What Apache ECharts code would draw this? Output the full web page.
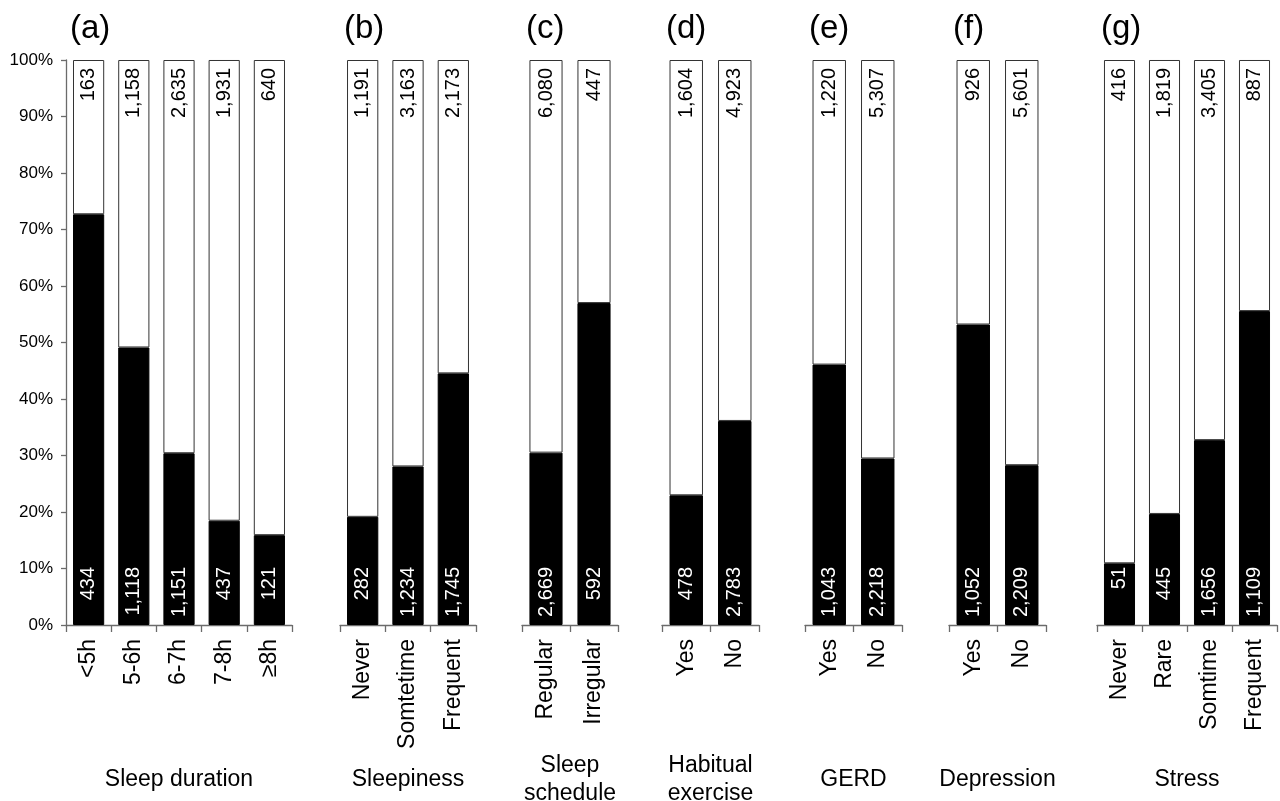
<!DOCTYPE html>
<html>
<head>
<meta charset="utf-8">
<script src="https://cdn.jsdelivr.net/npm/echarts@6/dist/echarts.min.js"></script>
<style>
html,body{margin:0;padding:0;background:#fff;}
#chart{width:1280px;height:801px;}
</style>
</head>
<body>
<div id="chart"></div>
<script>
// ---- data ----
const yTicks = ['0%','10%','20%','30%','40%','50%','60%','70%','80%','90%','100%'];

const panelTitles = ['(a)','(b)','(c)','(d)','(e)','(f)','(g)'];
const panelNames = ['Sleep duration','Sleepiness','Sleep\nschedule','Habitual\nexercise','GERD','Depression','Stress'];

const catA = ['<5h','5-6h','6-7h','7-8h','\u22658h'];
const blackA = [434, 1118, 1151, 437, 121];
const whiteA = [163, 1158, 2635, 1931, 640];

const catB = ['Never','Somtetime','Frequent'];
const blackB = [282, 1234, 1745];
const whiteB = [1191, 3163, 2173];

const catC = ['Regular','Irregular'];
const blackC = [2669, 592];
const whiteC = [6080, 447];

const catD = ['Yes','No'];
const blackD = [478, 2783];
const whiteD = [1604, 4923];

const catE = ['Yes','No'];
const blackE = [1043, 2218];
const whiteE = [1220, 5307];

const catF = ['Yes','No'];
const blackF = [1052, 2209];
const whiteF = [926, 5601];

const catG = ['Never','Rare','Somtime','Frequent'];
const blackG = [51, 445, 1656, 1109];
const whiteG = [416, 1819, 3405, 887];

const panels = [
  {cats: catA, black: blackA, white: whiteA},
  {cats: catB, black: blackB, white: whiteB},
  {cats: catC, black: blackC, white: whiteC},
  {cats: catD, black: blackD, white: whiteD},
  {cats: catE, black: blackE, white: whiteE},
  {cats: catF, black: blackF, white: whiteF},
  {cats: catG, black: blackG, white: whiteG}
];

// ---- layout ----
const gridBoxes = [
  {left: 66, width: 226},
  {left: 340, width: 136},
  {left: 522, width: 96},
  {left: 662, width: 97},
  {left: 805, width: 97},
  {left: 949, width: 97},
  {left: 1097, width: 180}
];
const FONT = '"Liberation Sans", Arial, sans-serif';
const AXIS_COLOR = '#6b6b6b';

const fmt = n => n.toLocaleString('en-US');

const grid = [], xAxis = [], yAxis = [], series = [], title = [];

panels.forEach((p, i) => {
  const g = gridBoxes[i];
  grid.push({left: g.left, width: g.width, top: 60, height: 565, containLabel: false, outerBoundsMode: 'none'});
  title.push({
    text: panelTitles[i], left: g.left - 1, top: 7,
    textStyle: {fontFamily: FONT, fontSize: 33, fontWeight: 'normal', color: '#000'}
  });
  xAxis.push({
    type: 'category', gridIndex: i, data: p.cats,
    axisLine: {show: true, lineStyle: {color: AXIS_COLOR, width: 1.3}},
    axisTick: {show: true, length: 7, lineStyle: {color: AXIS_COLOR, width: 1.3}},
    axisLabel: {rotate: 90, interval: 0, margin: 14, fontSize: 23, color: '#000', fontFamily: FONT},
    name: panelNames[i], nameLocation: 'middle', nameGap: 155,
    nameTextStyle: {fontSize: 23, color: '#000', fontFamily: FONT, lineHeight: 28, verticalAlign: 'middle'}
  });
  const first = i === 0;
  yAxis.push({
    type: 'value', gridIndex: i, min: 0, max: 100, interval: 10,
    splitLine: {show: false},
    axisLine: {show: first, lineStyle: {color: AXIS_COLOR, width: 1.3}},
    axisTick: {show: first, length: 5, lineStyle: {color: AXIS_COLOR, width: 1.3}},
    axisLabel: {show: first, margin: 13, fontSize: 17, color: '#000', fontFamily: FONT,
      formatter: v => yTicks[Math.round(v / 10)]}
  });
  const pctBlack = p.black.map((b, k) => b / (b + p.white[k]) * 100);
  const pctWhite = pctBlack.map(v => 100 - v);
  series.push({
    type: 'bar', xAxisIndex: i, yAxisIndex: i, stack: 's' + i,
    barCategoryGap: '31%',
    data: pctBlack,
    itemStyle: {color: '#000', borderColor: '#000', borderWidth: 1},
    label: {
      show: true, position: 'insideBottom', distance: 58, rotate: 90,
      align: 'right', verticalAlign: 'middle',
      color: '#fff', fontSize: 20, fontFamily: FONT,
      formatter: prm => fmt(p.black[prm.dataIndex])
    },
    animation: false
  });
  series.push({
    type: 'bar', xAxisIndex: i, yAxisIndex: i, stack: 's' + i,
    barCategoryGap: '31%',
    data: pctWhite,
    itemStyle: {color: '#fff', borderColor: '#333', borderWidth: 1},
    label: {
      show: true, position: 'insideTop', distance: 8, rotate: 90,
      align: 'right', verticalAlign: 'middle',
      color: '#000', fontSize: 20, fontFamily: FONT,
      formatter: prm => fmt(p.white[prm.dataIndex])
    },
    animation: false
  });
});

const chart = echarts.init(document.getElementById('chart'), null, {renderer: 'canvas'});
chart.setOption({
  backgroundColor: '#fff',
  animation: false,
  title, grid, xAxis, yAxis, series
});
</script>
</body>
</html>
